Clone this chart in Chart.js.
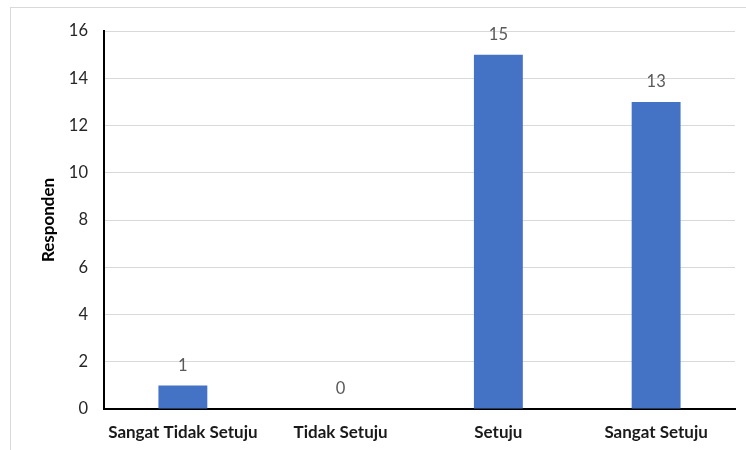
<!DOCTYPE html>
<html>
<head>
<meta charset="utf-8">
<script src="https://cdn.jsdelivr.net/npm/chart.js@4.4.1/dist/chart.umd.min.js"></script>
<style>
  html, body { margin: 0; padding: 0; background: #ffffff; }
  #wrap { position: relative; width: 746px; height: 450px; }
  #frame { position: absolute; left: 10px; top: 7px; width: 740px; height: 450px;
           border: 1px solid #d9d9d9; box-sizing: border-box; pointer-events: none; }
  canvas { position: absolute; left: 0; top: 0; }
</style>
</head>
<body>
<div id="wrap">
  <canvas id="c" width="746" height="450"></canvas>
  <div id="frame"></div>
</div>
<script>
const categories = ['Sangat Tidak Setuju', 'Tidak Setuju', 'Setuju', 'Sangat Setuju'];
const responden = [1, 0, 15, 13];
const yTicks = [0, 2, 4, 6, 8, 10, 12, 14, 16];

const FONT = "Lato, 'Open Sans', 'Liberation Sans', sans-serif";

// Value labels above each bar
const valueLabels = {
  id: 'valueLabels',
  afterDatasetsDraw(chart) {
    const ctx = chart.ctx;
    const meta = chart.getDatasetMeta(0);
    ctx.save();
    ctx.font = '16.5px ' + FONT;
    ctx.fillStyle = '#595959';
    ctx.textAlign = 'center';
    ctx.textBaseline = 'middle';
    meta.data.forEach((bar, i) => {
      ctx.fillText(String(responden[i]), bar.x, bar.y - 20);
    });
    ctx.restore();
  }
};

new Chart(document.getElementById('c'), {
  type: 'bar',
  data: {
    labels: categories,
    datasets: [{
      data: responden,
      backgroundColor: '#4472C4',
      borderWidth: 0,
      barPercentage: 0.31,
      categoryPercentage: 1.0
    }]
  },
  options: {
    responsive: false,
    animation: false,
    layout: { padding: { left: 0, right: 11, top: 31, bottom: 0 } },
    plugins: { legend: { display: false }, tooltip: { enabled: false } },
    scales: {
      x: {
        grid: { display: false, drawTicks: false },
        border: { display: true, color: '#000000', width: 2 },
        ticks: {
          color: '#1a1a1a',
          padding: 13,
          maxRotation: 0,
          font: { family: FONT, size: 17, weight: 'bold' }
        },
        afterFit(scale) { scale.height = 41; }
      },
      y: {
        min: 0,
        max: 16,
        afterBuildTicks(scale) { scale.ticks = yTicks.map(v => ({ value: v })); },
        grid: { color: '#d9d9d9', lineWidth: 1, drawTicks: false },
        border: { display: true, color: '#000000', width: 2 },
        ticks: {
          color: '#262626',
          padding: 16,
          font: { family: FONT, size: 16.5 }
        },
        title: {
          display: true,
          text: 'Responden',
          color: '#000000',
          padding: { top: 38, bottom: 0 },
          font: { family: FONT, size: 17, weight: 'bold' }
        },
        afterFit(scale) { scale.width = 104; }
      }
    }
  },
  plugins: [valueLabels]
});
</script>
</body>
</html>
